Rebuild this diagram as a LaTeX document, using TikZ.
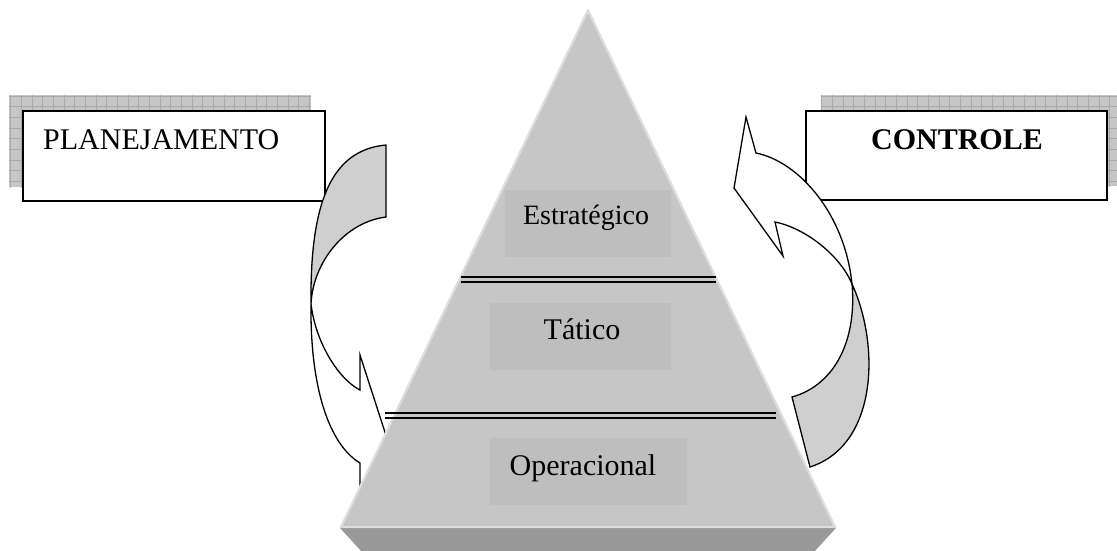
\documentclass[tikz,border=0pt]{standalone}
\usepackage{fontspec}
\setmainfont{Liberation Serif}
\definecolor{pyrface}{HTML}{C6C6C6}
\definecolor{pyredge}{HTML}{DEDEDE}
\definecolor{pyrbase}{HTML}{999999}
\definecolor{labelbg}{HTML}{BEBEBE}
\definecolor{arrowback}{HTML}{CFCFCF}
\definecolor{shadowfill}{HTML}{C6C6C6}
\definecolor{shadowgrid}{HTML}{A9A9A9}
\begin{document}
\begin{tikzpicture}[x=1pt,y=-1pt,
  shadowbox/.style={fill=shadowfill},
  gridlines/.style={draw=shadowgrid, line width=0.7pt},
  titlebox/.style={draw=black, fill=white, line width=1.6pt},
  titletext/.style={inner sep=0pt, font=\fontsize{30}{36}\selectfont},
  leveltext/.style={inner sep=0pt, anchor=base, font=\fontsize{30}{36}\selectfont},
  levelbg/.style={fill=labelbg},
  rule/.style={draw=black, line width=2pt},
  arrowline/.style={draw=black, line width=1.3pt, line join=miter},
  backpart/.style={arrowline, fill=arrowback},
  frontpart/.style={arrowline, fill=white}]
\useasboundingbox (0,0) rectangle (1117,550);

% ---- PLANEJAMENTO box with its gridded shadow
\fill[shadowbox] (9,95) rectangle (311,187);
\begin{scope}
  \clip (9,95) rectangle (311,187);
  \draw[gridlines, step=10.67pt] (0,84) grid (320,200);
\end{scope}
\draw[titlebox] (23,111) rectangle (325,201);
\node[titletext, anchor=base west] (plan) at (43,149) {PLANEJAMENTO};

% ---- CONTROLE box with its gridded shadow
\fill[shadowbox] (821,95) rectangle (1117,186);
\begin{scope}
  \clip (821,95) rectangle (1117,186);
  \draw[gridlines, step=10.67pt] (810,84) grid (1130,200);
\end{scope}
\draw[titlebox] (806,111) rectangle (1107,200);
\node[titletext, anchor=base, font=\fontsize{30}{36}\selectfont\bfseries] (ctrl) at (957,149) {CONTROLE};

% ---- left curved arrow (planning, downwards)
\coordinate (lcusp) at (311,304);
\draw[backpart] (386,145) .. controls (330,150) and (310,205) .. (lcusp)
  .. controls (313,262) and (345,222) .. (386,217) -- cycle;
\draw[frontpart] (lcusp) .. controls (310,390) and (330,445) .. (360,463)
  -- (360,498) -- (393,457) -- (360,355) -- (360,390)
  .. controls (340,380) and (316,345) .. (lcusp) -- cycle;

% ---- right curved arrow (control, upwards)
\coordinate (rcusp) at (852,284);
\draw[backpart] (rcusp) .. controls (880,345) and (878,445) .. (810,467)
  -- (792,397) .. controls (835,385) and (857,340) .. (rcusp) -- cycle;
\draw[frontpart] (rcusp) .. controls (845,215) and (800,162) .. (756,153)
  -- (746,117) -- (734,188) -- (783,256) -- (775,222)
  .. controls (805,228) and (840,255) .. (rcusp) -- cycle;

% ---- pyramid
\fill[pyrbase] (340,528) -- (836,528) -- (814,552) -- (362,552) -- cycle;
\fill[pyrface] (588,9) -- (836,528) -- (340,528) -- cycle;
\draw[pyredge, line width=2.2pt, line join=round] (341,527) -- (588,10) -- (835,527);
\draw[pyredge, line width=1.6pt] (341,527) -- (835,527);

% level label backgrounds
\fill[levelbg] (505,190) rectangle (671,257);
\fill[levelbg] (490,303) rectangle (671,370);
\fill[levelbg] (490,438) rectangle (687,505);

% level separators (double rules)
\draw[rule] (461,277) -- (716,277);
\draw[rule] (461,282) -- (716,282);
\draw[rule] (385,413) -- (776,413);
\draw[rule] (385,418) -- (776,418);

% level names
\node[leveltext, font=\fontsize{28}{34}\selectfont] (estr) at (586,224) {Estratégico};
\node[leveltext] (tat) at (582,339) {Tático};
\node[leveltext] (oper) at (583,475) {Operacional};
\end{tikzpicture}
\end{document}
